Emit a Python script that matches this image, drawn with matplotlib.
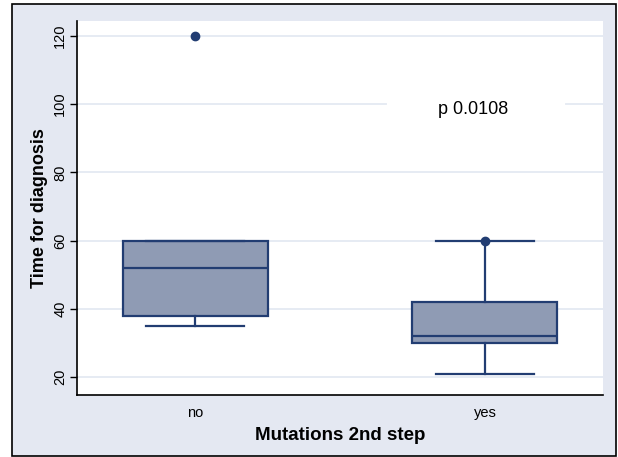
import matplotlib.pyplot as plt
from matplotlib.patches import Rectangle

# box plot summary
groups = ["no", "yes"]
q1 = [38, 30]
med = [52, 32]
q3 = [60, 42]
whislo = [35, 21]
whishi = [60, 60]
fliers = [[120], [60]]
yticks = [20, 40, 60, 80, 100, 120]
p_text = "p 0.0108"

plt.rcParams["font.family"] = ["Liberation Sans", "DejaVu Sans"]

navy = "#223d72"
fill = "#8f9bb4"
grid_c = "#e1e7f1"
bg = "#e4e8f2"

fig = plt.figure(figsize=(6.18, 4.57), dpi=100, facecolor="white")
# outer framed background
fig.patches.append(Rectangle((12 / 618, 1 - 456 / 457), 604 / 618, 452 / 457,
                             transform=fig.transFigure, facecolor=bg,
                             edgecolor="black", linewidth=1.2, zorder=-1))

ax = fig.add_axes([77 / 618, 1 - 395 / 457, 526 / 618, 374 / 457])
ax.set_facecolor("white")

stats = []
for i, g in enumerate(groups):
    stats.append(dict(label=g, q1=q1[i], med=med[i], q3=q3[i],
                      whislo=whislo[i], whishi=whishi[i], fliers=fliers[i]))

ax.bxp(stats, positions=[1, 2], widths=0.5, patch_artist=True,
       boxprops=dict(facecolor=fill, edgecolor=navy, linewidth=1.6),
       medianprops=dict(color=navy, linewidth=1.6),
       whiskerprops=dict(color=navy, linewidth=1.6),
       capprops=dict(color=navy, linewidth=1.6),
       capwidths=0.34,
       flierprops=dict(marker="o", markerfacecolor=navy, markeredgecolor=navy,
                       markersize=6), zorder=3)

ax.set_xlim(0.593, 2.407)
ax.set_ylim(14.7, 124.4)
ax.set_yticks(yticks)
ax.set_yticklabels([str(v) for v in yticks], rotation=90, va="center", fontsize=10.5)
ax.tick_params(axis="x", length=0, labelsize=10.5, pad=8)
ax.tick_params(axis="y", length=5, width=1, pad=2)
ax.yaxis.grid(True, color=grid_c, linewidth=1.2, zorder=0)
ax.set_axisbelow(True)

for s in ["top", "right"]:
    ax.spines[s].set_visible(False)
for s in ["left", "bottom"]:
    ax.spines[s].set_linewidth(1.2)

ax.text(1.96, 98.5, p_text, fontsize=13, ha="center", va="center", zorder=2,
        bbox=dict(boxstyle="square,pad=0", facecolor="white", edgecolor="none"))
# white gap in the 100 gridline around the annotation
ax.plot([1.67, 2.27], [100, 100], color="white", linewidth=3, zorder=1)

ax.set_xlabel("Mutations 2nd step", fontsize=13.5, fontweight="bold", labelpad=5)
ax.set_ylabel("Time for diagnosis", fontsize=13, fontweight="bold", labelpad=4)

fig.savefig("out.png", dpi=100, facecolor="white")
